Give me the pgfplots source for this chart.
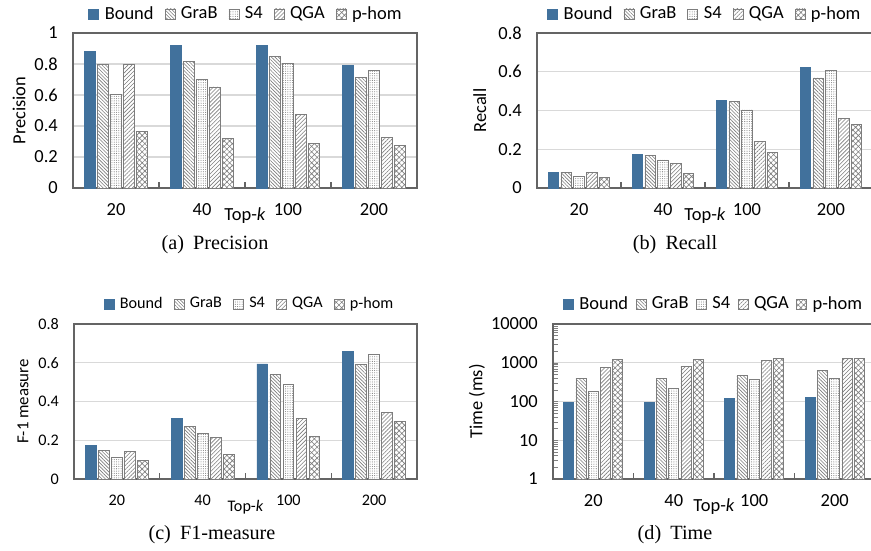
\documentclass[border=0pt]{standalone}
\usepackage{pgfplots}
\pgfplotsset{compat=1.18}
\usepackage{pgfplotstable}
\usepackage{fontspec}
\setmainfont{Carlito}
\newfontfamily\capfont{Liberation Serif}
\usetikzlibrary{patterns.meta}

\definecolor{bnd}{RGB}{65,113,156}
\definecolor{edge}{RGB}{125,125,125}
\definecolor{framec}{RGB}{100,100,100}
\definecolor{gridc}{RGB}{217,217,217}

% x = category index (20, 40, 100, 200)
\pgfplotstableread{
x bound grab s4 qga phom
0 0.882 0.796 0.606 0.796 0.366
1 0.918 0.815 0.699 0.652 0.318
2 0.918 0.849 0.802 0.473 0.290
3 0.791 0.714 0.761 0.327 0.273
}\precdata
\pgfplotstableread{
x bound grab s4 qga phom
0 0.080 0.080 0.060 0.080 0.054
1 0.175 0.167 0.145 0.129 0.074
2 0.450 0.445 0.403 0.239 0.185
3 0.621 0.568 0.606 0.358 0.329
}\recdata
\pgfplotstableread{
x bound grab s4 qga phom
0 0.172 0.149 0.112 0.144 0.094
1 0.314 0.271 0.237 0.215 0.129
2 0.594 0.539 0.489 0.314 0.221
3 0.659 0.589 0.645 0.342 0.299
}\fdata
\pgfplotstableread{
x bound grab s4 qga phom
0 94 391 181 766 1207
1 94 391 220 813 1207
2 122 467 369 1137 1280
3 129 641 391 1280 1280
}\timedata

\newcommand{\fa}{\fontsize{10.5}{12}\selectfont}
\newcommand{\fc}{\fontsize{9.2}{11}\selectfont}
\newcommand{\fcl}{\fontsize{9.6}{11}\selectfont}

\pgfplotsset{
  barbase/.style={ybar, bar width=0.125, draw=edge, line width=0.45pt, area legend,
    legend image code/.code={\draw[##1] (0mm,-1mm) rectangle (2mm,1mm);}},
  pBound/.style={barbase, fill=bnd, draw=bnd, bar shift=-0.304},
  pGraB/.style={barbase, fill=white, bar shift=-0.152,
    postaction={pattern={Lines[angle=-45,distance=1.4pt,line width=0.35pt]}, pattern color=edge}},
  pS4/.style={barbase, fill=white, bar shift=0,
    postaction={pattern={Dots[distance=1.3pt,radius=0.3pt]}, pattern color=edge}},
  pQGA/.style={barbase, fill=white, bar shift=0.152,
    postaction={pattern={Lines[angle=45,distance=1.6pt,line width=0.35pt]}, pattern color=edge}},
  pHom/.style={barbase, fill=white, bar shift=0.304,
    postaction={pattern={Hatch[angle=45,distance=2.2pt,line width=0.35pt]}, pattern color=edge}},
  excel/.style={
    scale only axis, anchor=south west, height=31mm,
    xmin=-0.5, xmax=3.5,
    xtick={0,1,2,3}, xticklabels={20,40,100,200},
    major tick length=0pt, xtick pos=bottom, ytick pos=left,
    extra x ticks={0.5,1.5,2.5}, extra x tick labels={},
    extra x tick style={major tick length=1.2mm, tick align=inside,
      tick style={draw=framec, line width=0.8pt}},
    ymajorgrids, grid style={draw=gridc, line width=0.6pt},
    axis line style={draw=framec, line width=0.8pt},
    xticklabel style={yshift=-1.9mm},
    yticklabel style={xshift=-1.8mm},
    xlabel={Top-\textit{k}},
    legend columns=5, legend cell align=left,
    legend style={draw=none, fill=none, anchor=west, inner sep=0pt,
      /tikz/every odd column/.append style={column sep=0.4mm},
      /tikz/every even column/.append style={column sep=1.5mm}},
  },
}

\begin{document}
\begin{tikzpicture}
\path[use as bounding box] (0,0) rectangle (174.2mm,-110.2mm);

% (a) Precision
\begin{axis}[excel, at={(14.6mm,-37.6mm)}, width=68.8mm,
  ymin=0, ymax=1, ytick={0,0.2,...,1}, yticklabels={0,0.2,0.4,0.6,0.8,1},
  tick label style={font=\fa}, label style={font=\fa}, legend style={font=\fa},
  ylabel={Precision}, ylabel style={at={(axis description cs:-0.157,0.5)}, anchor=center},
  xlabel style={at={(axis description cs:0.5,-0.18)}, anchor=center},
  legend style={at={(0.044,1.123)}}]
\addplot[pBound] table[x=x,y=bound]{\precdata};
\addplot[pGraB] table[x=x,y=grab]{\precdata};
\addplot[pS4] table[x=x,y=s4]{\precdata};
\addplot[pQGA] table[x=x,y=qga]{\precdata};
\addplot[pHom] table[x=x,y=phom]{\precdata};
\legend{Bound,GraB,S4,QGA,p-hom}
\end{axis}

% (b) Recall
\begin{axis}[excel, at={(107.4mm,-37.6mm)}, width=67.2mm,
  ymin=0, ymax=0.8, ytick={0,0.2,...,0.8}, yticklabels={0,0.2,0.4,0.6,0.8},
  tick label style={font=\fa}, label style={font=\fa}, legend style={font=\fa},
  ylabel={Recall}, ylabel style={at={(axis description cs:-0.170,0.5)}, anchor=center},
  xlabel style={at={(axis description cs:0.5,-0.18)}, anchor=center},
  legend style={at={(0.030,1.123)}}]
\addplot[pBound] table[x=x,y=bound]{\recdata};
\addplot[pGraB] table[x=x,y=grab]{\recdata};
\addplot[pS4] table[x=x,y=s4]{\recdata};
\addplot[pQGA] table[x=x,y=qga]{\recdata};
\addplot[pHom] table[x=x,y=phom]{\recdata};
\legend{Bound,GraB,S4,QGA,p-hom}
\end{axis}

% (c) F1-measure
\begin{axis}[excel, at={(14.8mm,-95.8mm)}, width=68.6mm,
  ymin=0, ymax=0.8, ytick={0,0.2,...,0.8}, yticklabels={0,0.2,0.4,0.6,0.8},
  tick label style={font=\fc}, label style={font=\fc}, legend style={font=\fc},
  ylabel={F-1 measure}, ylabel style={font=\fcl, at={(axis description cs:-0.149,0.5)}, anchor=center},
  xlabel style={at={(axis description cs:0.5,-0.18)}, anchor=center},
  legend style={at={(0.085,1.129)}}]
\addplot[pBound] table[x=x,y=bound]{\fdata};
\addplot[pGraB] table[x=x,y=grab]{\fdata};
\addplot[pS4] table[x=x,y=s4]{\fdata};
\addplot[pQGA] table[x=x,y=qga]{\fdata};
\addplot[pHom] table[x=x,y=phom]{\fdata};
\legend{Bound,GraB,S4,QGA,p-hom}
\end{axis}

% (d) Time
\begin{axis}[excel, at={(110.6mm,-95.8mm)}, width=64.4mm,
  ymode=log, ymin=1, ymax=10000, ytick={1,10,100,1000,10000},
  yticklabels={1,10,100,1000,10000},
  tick label style={font=\fa}, label style={font=\fa}, legend style={font=\fa},
  ylabel={Time (ms)}, ylabel style={at={(axis description cs:-0.236,0.5)}, anchor=center},
  xlabel style={at={(axis description cs:0.5,-0.18)}, anchor=center},
  legend style={at={(0.030,1.129)},
    /tikz/every even column/.append style={column sep=0.8mm}}]
\addplot[pBound] table[x=x,y=bound]{\timedata};
\addplot[pGraB] table[x=x,y=grab]{\timedata};
\addplot[pS4] table[x=x,y=s4]{\timedata};
\addplot[pQGA] table[x=x,y=qga]{\timedata};
\addplot[pHom] table[x=x,y=phom]{\timedata};
\legend{Bound,GraB,S4,QGA,p-hom}
\end{axis}

\begin{scope}[every node/.style={font=\capfont\fontsize{11.5}{13}\selectfont, anchor=center}]
\node at (43mm,-49mm) {(a)\hspace{0.45em}Precision};
\node at (135mm,-49mm) {(b)\hspace{0.45em}Recall};
\node at (42.4mm,-107mm) {(c)\hspace{0.45em}F1-measure};
\node at (135mm,-107mm) {(d)\hspace{0.45em}Time};
\end{scope}
\end{tikzpicture}
\end{document}
